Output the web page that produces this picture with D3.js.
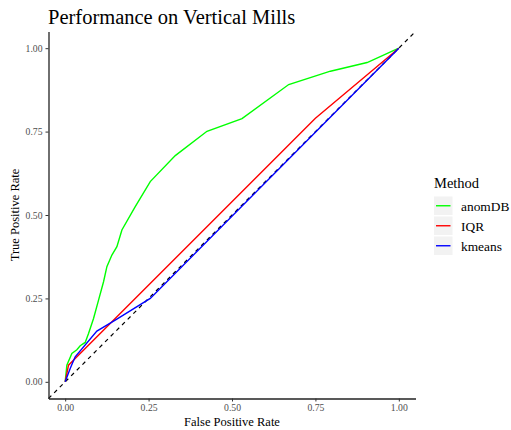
<!DOCTYPE html>
<html>
<head>
<meta charset="utf-8">
<script src="https://cdn.jsdelivr.net/npm/d3@7"></script>
<style>
    body { margin: 0; background: #fff; }
</style>
</head>
<body>
<script>
    // ROC curves
    var methods = ["anomDB", "IQR", "kmeans"];
    var colors  = ["#00ff00", "#ff0000", "#0000ff"];

    var anomDB_fpr = [0, 0.005, 0.02, 0.035, 0.045, 0.06, 0.07, 0.085, 0.1, 0.115, 0.125, 0.14, 0.155, 0.17, 0.21, 0.255, 0.33, 0.425, 0.53, 0.67, 0.795, 0.905, 1];
    var anomDB_tpr = [0, 0.05, 0.085, 0.096, 0.108, 0.118, 0.145, 0.19, 0.245, 0.3, 0.345, 0.38, 0.405, 0.455, 0.525, 0.6, 0.678, 0.751, 0.789, 0.891, 0.931, 0.957, 1];

    var iqr_fpr = [0, 0.01, 0.03, 0.75, 1];
    var iqr_tpr = [0, 0.05, 0.07, 0.79, 1];

    var kmeans_fpr = [0, 0.015, 0.03, 0.095, 0.15, 0.255, 1];
    var kmeans_tpr = [0, 0.04, 0.075, 0.152, 0.185, 0.25, 1];

    var tickValues = [0, 0.25, 0.5, 0.75, 1];

    var serif = "'Liberation Serif', 'Times New Roman', Times, serif";
    var width = 511, height = 430;

    var svg = d3.select("body")
        .append("svg")
        .attr("width", width)
        .attr("height", height)
        .attr("font-family", serif);

    var x = d3.scaleLinear().domain([-0.05, 1.05]).range([48.5, 415.5]);
    var y = d3.scaleLinear().domain([-0.05, 1.05]).range([398.5, 31.5]);

    // reference diagonal
    svg.append("line")
        .attr("x1", x(-0.05)).attr("y1", y(-0.05))
        .attr("x2", x(1.05)).attr("y2", y(1.05))
        .attr("stroke", "#000")
        .attr("stroke-width", 1.2)
        .attr("stroke-dasharray", "4,4");

    var series = [
        { fpr: anomDB_fpr, tpr: anomDB_tpr },
        { fpr: iqr_fpr, tpr: iqr_tpr },
        { fpr: kmeans_fpr, tpr: kmeans_tpr }
    ];

    var line = d3.line()
        .x(function(d){ return x(d[0]); })
        .y(function(d){ return y(d[1]); });

    series.forEach(function(s, i){
        var pts = s.fpr.map(function(v, j){ return [v, s.tpr[j]]; });
        svg.append("path")
            .datum(pts)
            .attr("fill", "none")
            .attr("stroke", colors[i])
            .attr("stroke-width", 1.4)
            .attr("d", line);
    });

    // axes
    var xAxis = svg.append("g")
        .attr("transform", "translate(0," + 398.5 + ")")
        .call(d3.axisBottom(x).tickValues(tickValues).tickSize(3).tickSizeOuter(0)
            .tickFormat(d3.format(".2f")));
    var yAxis = svg.append("g")
        .attr("transform", "translate(" + 48.5 + ",0)")
        .call(d3.axisLeft(y).tickValues(tickValues).tickSize(3).tickSizeOuter(0)
            .tickFormat(d3.format(".2f")));

    [xAxis, yAxis].forEach(function(a){
        a.attr("font-family", serif).attr("font-size", 9.7);
        a.select(".domain").attr("stroke", "#222").attr("stroke-width", 1.3);
        a.selectAll(".tick line").attr("stroke", "#333");
        a.selectAll(".tick text").attr("fill", "#4d4d4d");
    });
    xAxis.selectAll(".tick text").attr("dy", "0.71em").attr("y", 6);
    yAxis.selectAll(".tick text").attr("x", -6);

    svg.append("text")
        .attr("x", (x(-0.05) + x(1.05)) / 2)
        .attr("y", 426)
        .attr("text-anchor", "middle")
        .attr("font-size", 12.5)
        .text("False Positive Rate");

    svg.append("text")
        .attr("transform", "translate(19," + (y(-0.05) + y(1.05)) / 2 + ") rotate(-90)")
        .attr("text-anchor", "middle")
        .attr("font-size", 12.5)
        .text("True Positive Rate");

    svg.append("text")
        .attr("x", 48)
        .attr("y", 24)
        .attr("font-size", 20.5)
        .text("Performance on Vertical Mills");

    // legend
    var legend = svg.append("g").attr("transform", "translate(434,0)");
    legend.append("text")
        .attr("x", 0)
        .attr("y", 188)
        .attr("font-size", 14.5)
        .text("Method");

    var keys = legend.selectAll(".key")
        .data(methods)
        .enter()
        .append("g")
        .attr("class", "key")
        .attr("transform", function(d, i){ return "translate(0," + (196.5 + i * 20) + ")"; });

    keys.append("rect")
        .attr("width", 18.5)
        .attr("height", 18.5)
        .attr("fill", "#f2f2f2");
    keys.append("line")
        .attr("x1", 2).attr("x2", 16.5)
        .attr("y1", 9.25).attr("y2", 9.25)
        .attr("stroke", function(d, i){ return colors[i]; })
        .attr("stroke-width", 1.4);
    keys.append("text")
        .attr("x", 27)
        .attr("y", 14)
        .attr("font-size", 13.4)
        .text(function(d){ return d; });
</script>
</body>
</html>
